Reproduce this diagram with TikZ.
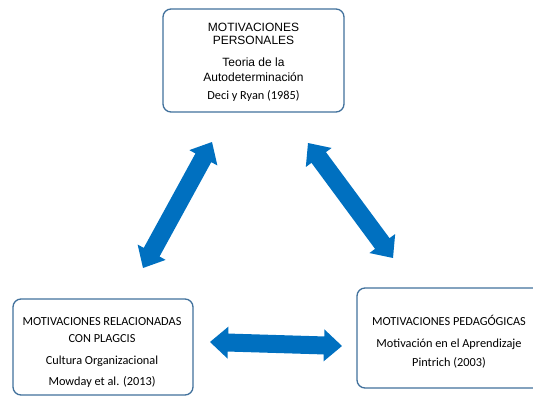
\documentclass[tikz,border=0pt]{standalone}
\usepackage{fontspec}
\setmainfont{Carlito}
\newfontfamily\arialf{Liberation Sans}
\usetikzlibrary{calc}
\definecolor{arrowblue}{HTML}{0070C0}
\definecolor{boxline}{HTML}{41719C}
\tikzset{
  box/.style={draw=boxline, line width=1.3pt, rounded corners=8pt, fill=white, inner sep=0pt},
  txt/.style={align=center, inner sep=0pt, font=\fontsize{12.3}{17}\selectfont},
  arialtxt/.style={align=center, inner sep=0pt, font=\arialf\fontsize{12}{12.7}\selectfont},
}
\def\falen{0}\def\faang{0}
\newcommand\fatarrow[2]{%
  \path let \p1=($(#2)-(#1)$) in \pgfextra{\pgfmathsetmacro\falen{veclen(\x1,\y1)}\pgfmathsetmacro\faang{atan2(\y1,\x1)}\global\let\falen\falen\global\let\faang\faang};
  \begin{scope}[shift={(#1)}, rotate=\faang]
    \fill[arrowblue] (0,0) -- (18,16) -- (18,9) -- (\falen-18,9) -- (\falen-18,16) -- (\falen,0)
      -- (\falen-18,-16) -- (\falen-18,-9) -- (18,-9) -- (18,-16) -- cycle;
  \end{scope}}
\begin{document}
\begin{tikzpicture}[x=1pt,y=1pt]
\useasboundingbox (0,0) rectangle (533,-398);
% boxes
\node[box, minimum width=181, minimum height=103] (pers) at (253.5,-60.5) {};
\node[arialtxt] (perst) at (253.5,-62.5) {MOTIVACIONES\\PERSONALES\\[9.6pt]Teoria de la\\[2.3pt]Autodeterminación\\[5pt]{\rmfamily\fontsize{12.3}{12.7}\selectfont Deci y Ryan (1985)}};
\node[box, minimum width=180, minimum height=96] (rel) at (103,-347) {};
\node[txt] (relt) at (102,-352) {MOTIVACIONES RELACIONADAS\\CON PLAGCIS\\[5.3pt]Cultura Organizacional\\[3.7pt]Mowday et al. (2013)};
\node[box, minimum width=186, minimum height=100] (ped) at (450,-338) {};
\node[txt] (pedt) at (449,-342) {MOTIVACIONES PEDAGÓGICAS\\[5pt]Motivación en el Aprendizaje\\[2pt]Pintrich (2003)};
% arrows
\coordinate (a1s) at (143,-268);
\coordinate (a1e) at (212,-142);
\coordinate (a2s) at (393,-258);
\coordinate (a2e) at (308,-143);
\coordinate (a3s) at (210,-342);
\coordinate (a3e) at (342,-346);
\fatarrow{a1s}{a1e}
\fatarrow{a2s}{a2e}
\fatarrow{a3s}{a3e}
\end{tikzpicture}
\end{document}
